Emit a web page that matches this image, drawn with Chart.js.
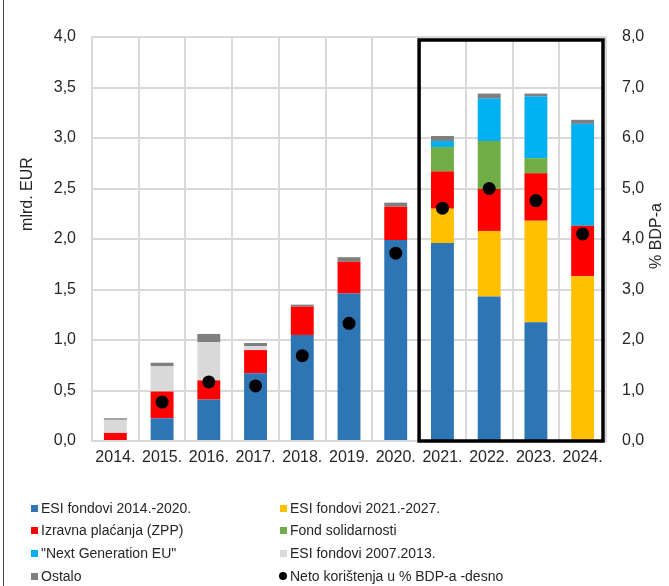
<!DOCTYPE html>
<html lang="hr">
<head>
    <meta charset="UTF-8">
    <title>Neto korištenje EU sredstava</title>
    <script src="https://cdn.jsdelivr.net/npm/chart.js"></script>
    <style>
        body { margin: 0; background: #fff; font-family: "Liberation Sans", Arial, sans-serif; }
        #wrap { position: relative; width: 669px; height: 586px; }
        #legend { position: absolute; left: 0; top: 0; width: 669px; height: 586px; pointer-events: none; }
        .item { position: absolute; font-size: 14px; color: #262626; white-space: nowrap; line-height: 16px; }
        .item i { position: absolute; left: -10px; top: 5px; width: 7px; height: 7px; }
        .item i.dot { border-radius: 50%; width: 8px; height: 8px; left: -11px; top: 4px; }
    </style>
</head>
<body>
<div id="wrap">
    <canvas id="myChart" width="669" height="586"></canvas>
    <div id="legend"></div>
</div>
<script>
    var years = ['2014.', '2015.', '2016.', '2017.', '2018.', '2019.', '2020.', '2021.', '2022.', '2023.', '2024.'];

    var esi1420   = [0,    0.225, 0.41, 0.67, 1.05, 1.46,  1.99, 1.96, 1.43,  1.175, 0];
    var esi2127   = [0,    0,     0,    0,    0,    0,     0,    0.34, 0.65,  1.005, 1.63];
    var izravna   = [0.08, 0.265, 0.19, 0.23, 0.28, 0.315, 0.33, 0.37, 0.415, 0.47,  0.50];
    var fondSolid = [0,    0,     0,    0,    0,    0,     0,    0.24, 0.475, 0.15,  0];
    var ngeu      = [0,    0,     0,    0,    0,    0,     0,    0.06, 0.42,  0.61,  1.01];
    var esi0713   = [0.13, 0.25,  0.38, 0.04, 0,    0,     0,    0,    0,     0,     0];
    var ostalo    = [0.015,0.035, 0.08, 0.03, 0.02, 0.045, 0.04, 0.05, 0.05,  0.03,  0.04];
    var netoBdp   = [null, 0.77,  1.17, 1.09, 1.69, 2.33,  3.72, 4.61, 5.0,   4.76,  4.10];

    var leftTicks = [0, 0.5, 1, 1.5, 2, 2.5, 3, 3.5, 4];
    var rightTicks = [0, 1, 2, 3, 4, 5, 6, 7, 8];

    var font = "'Liberation Sans', Arial, sans-serif";
    var gridColor = '#d9d9d9';

    function bar(label, data, color) {
        return {
            type: 'bar', label: label, data: data, backgroundColor: color,
            stack: 's', yAxisID: 'y', order: 1,
            barPercentage: 0.49, categoryPercentage: 1
        };
    }

    function fmt(v) { return v.toFixed(1).replace('.', ','); }

    // titles and black frame around 2021-2024
    var extras = {
        id: 'extras',
        afterDatasetsDraw: function(chart) {
            var ctx = chart.ctx, a = chart.chartArea, x = chart.scales.x;
            var left = (x.getPixelForValue(6) + x.getPixelForValue(7)) / 2;
            ctx.save();
            ctx.strokeStyle = '#000';
            ctx.lineWidth = 3.5;
            ctx.strokeRect(left, a.top + 3, a.right - 3 - left, a.bottom - a.top - 3);
            ctx.restore();
        },
        afterDraw: function(chart) {
            var ctx = chart.ctx;
            ctx.save();
            ctx.fillStyle = '#262626';
            ctx.font = '16px ' + font;
            ctx.textAlign = 'center';
            ctx.textBaseline = 'middle';
            ctx.translate(28, 194);
            ctx.rotate(-Math.PI / 2);
            ctx.fillText('mlrd. EUR', 0, 0);
            ctx.restore();
            ctx.save();
            ctx.fillStyle = '#262626';
            ctx.font = '16px ' + font;
            ctx.textAlign = 'center';
            ctx.textBaseline = 'middle';
            ctx.translate(657, 236);
            ctx.rotate(-Math.PI / 2);
            ctx.fillText('% BDP-a', 0, 0);
            ctx.restore();
            ctx.save();
            ctx.strokeStyle = '#444';
            ctx.lineWidth = 1;
            ctx.beginPath();
            ctx.moveTo(3.5, 0);
            ctx.lineTo(3.5, 586);
            ctx.stroke();
            ctx.restore();
        }
    };

    var ctx = document.getElementById('myChart').getContext('2d');
    var chart = new Chart(ctx, {
        data: {
            labels: years,
            datasets: [
                bar('ESI fondovi 2014.-2020.', esi1420, '#2e75b6'),
                bar('ESI fondovi 2021.-2027.', esi2127, '#ffc000'),
                bar('Izravna plaćanja (ZPP)', izravna, '#ff0000'),
                bar('Fond solidarnosti', fondSolid, '#70ad47'),
                bar('"Next Generation EU"', ngeu, '#00b0f0'),
                bar('ESI fondovi 2007.2013.', esi0713, '#d9d9d9'),
                bar('Ostalo', ostalo, '#7f7f7f'),
                {
                    type: 'line', label: 'Neto korištenja u % BDP-a -desno', data: netoBdp,
                    yAxisID: 'y1', showLine: false, order: 0,
                    pointRadius: 6.5, pointBackgroundColor: '#000', pointBorderWidth: 0,
                    borderColor: '#000', backgroundColor: '#000'
                }
            ]
        },
        options: {
            responsive: false,
            animation: false,
            layout: { padding: { left: 0, right: 0, top: 37, bottom: 115 } },
            plugins: { legend: { display: false }, tooltip: { enabled: false } },
            scales: {
                x: {
                    stacked: true,
                    grid: { color: gridColor, lineWidth: 2, offset: true, drawTicks: false },
                    border: { color: gridColor, width: 2 },
                    ticks: { color: '#262626', font: { family: font, size: 16 }, padding: 7, maxRotation: 0, autoSkip: false },
                    afterFit: function(s) { s.height = 30; }
                },
                y: {
                    stacked: true, position: 'left', min: 0, max: 4,
                    afterBuildTicks: function(s) { s.ticks = leftTicks.map(function(v) { return { value: v }; }); },
                    grid: { color: gridColor, lineWidth: 2, drawTicks: false },
                    border: { color: gridColor, width: 2 },
                    ticks: { color: '#262626', font: { family: font, size: 16 }, padding: 16, callback: fmt },
                    afterFit: function(s) { s.width = 92; }
                },
                y1: {
                    position: 'right', min: 0, max: 8,
                    afterBuildTicks: function(s) { s.ticks = rightTicks.map(function(v) { return { value: v }; }); },
                    grid: { display: false, drawTicks: false },
                    border: { display: false },
                    ticks: { color: '#262626', font: { family: font, size: 16 }, padding: 16, callback: fmt },
                    afterFit: function(s) { s.width = 63; }
                }
            }
        },
        plugins: [extras]
    });

    // two-column legend below the chart
    var pos = [[41, 500], [290, 500], [41, 522], [290, 522], [41, 545], [290, 545], [41, 568], [290, 568]];
    var legend = document.getElementById('legend');
    chart.data.datasets.forEach(function(ds, i) {
        var el = document.createElement('div');
        el.className = 'item';
        el.style.left = pos[i][0] + 'px';
        el.style.top = pos[i][1] + 'px';
        var mark = document.createElement('i');
        mark.style.background = ds.type === 'line' ? '#000' : ds.backgroundColor;
        if (ds.type === 'line') mark.className = 'dot';
        el.appendChild(mark);
        el.appendChild(document.createTextNode(ds.label));
        legend.appendChild(el);
    });
</script>
</body>
</html>
